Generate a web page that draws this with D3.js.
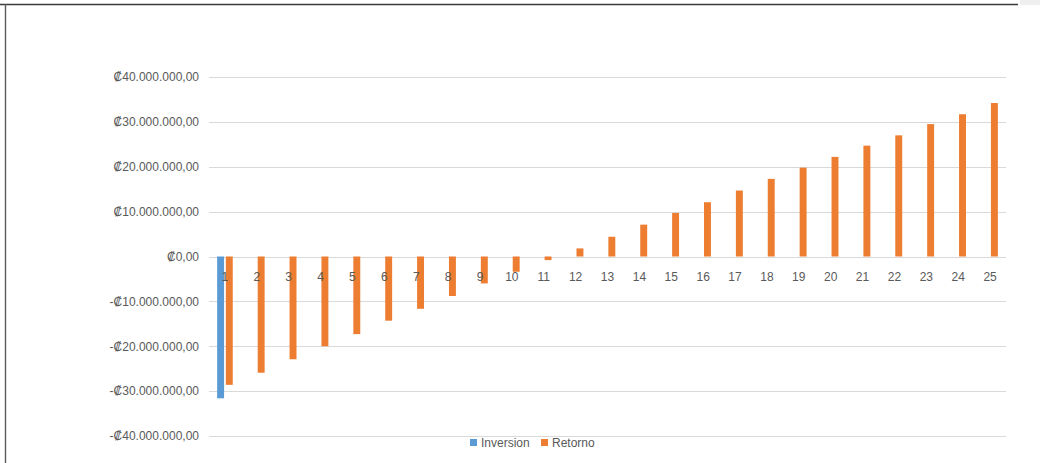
<!DOCTYPE html>
<html>
<head>
<meta charset="utf-8">
<script src="https://cdn.jsdelivr.net/npm/d3@7"></script>
<style>
  html, body { margin: 0; padding: 0; background: #ffffff; }
  svg { display: block; }
  text { font-family: "Liberation Sans", Arial, sans-serif; fill: #595959; }
</style>
</head>
<body>
<svg id="chart" width="1040" height="463"></svg>
<script>
// Periods (years) of the cash-flow projection
const categories = d3.range(1, 26).map(String);

// Initial investment (only in period 1), colones
const inversion = [-31600000, null, null, null, null, null, null, null, null, null,
  null, null, null, null, null, null, null, null, null, null,
  null, null, null, null, null];

// Cumulative return per period, colones
const retorno = [-28600000, -25900000, -22900000, -20000000, -17300000,
  -14300000, -11650000, -8800000, -6000000, -3400000,
  -800000, 1800000, 4400000, 7100000, 9700000,
  12100000, 14700000, 17300000, 19800000, 22200000,
  24700000, 27000000, 29500000, 31700000, 34200000];

const seriesNames = ["Inversion", "Retorno"];
const seriesColors = ["#5B9BD5", "#ED7D31"];

// Value-axis ticks
const yTicks = [-40000000, -30000000, -20000000, -10000000, 0,
  10000000, 20000000, 30000000, 40000000];

const svg = d3.select("#chart");
const W = 1040, H = 463;

// Outer frame (top and left edges)
svg.append("rect").attr("x", 1020).attr("y", 0).attr("width", 20).attr("height", 5).attr("fill", "#efefef");
svg.append("line").attr("x1", 0).attr("x2", 1018).attr("y1", 4.5).attr("y2", 4.5)
  .attr("stroke", "#3a3a3a").attr("stroke-width", 1.6);
svg.append("line").attr("x1", 5.5).attr("x2", 5.5).attr("y1", 4).attr("y2", H)
  .attr("stroke", "#5a5a5a").attr("stroke-width", 1.4);

const plot = { left: 209, right: 1006, top: 77, bottom: 436 };

const x = d3.scaleBand().domain(categories).range([plot.left, plot.right]).padding(0);
const x1 = d3.scaleBand().domain(seriesNames).range([-7.8, 7.8]).paddingInner(0.2);
const y = d3.scaleLinear().domain([-40000000, 40000000]).range([plot.bottom, plot.top]);

const locale = d3.formatLocale({
  decimal: ",", thousands: ".", grouping: [3], currency: ["₡", ""], minus: "-"
});
const fmt = locale.format("$,.2f");

// Gridlines
svg.append("g").selectAll("line").data(yTicks).join("line")
  .attr("x1", plot.left).attr("x2", plot.right)
  .attr("y1", d => Math.round(y(d)) + 0.5).attr("y2", d => Math.round(y(d)) + 0.5)
  .attr("stroke", "#d9d9d9").attr("stroke-width", 1);

// Value axis labels
const yAxis = d3.axisLeft(y).tickValues(yTicks).tickFormat(fmt).tickSize(0).tickPadding(10);
const gy = svg.append("g").attr("transform", `translate(${plot.left},0)`).call(yAxis);
gy.select(".domain").remove();
gy.selectAll("text").style("font-size", "12px").attr("fill", "#595959")
  .style("font-family", "'Liberation Sans', Arial, sans-serif");

// Bars
const seriesData = [inversion, retorno];
seriesNames.forEach((name, si) => {
  const rows = categories.map((c, i) => ({ c, v: seriesData[si][i] })).filter(d => d.v != null);
  svg.append("g").selectAll("rect").data(rows).join("rect")
    .attr("x", d => x(d.c) + x.bandwidth() / 2 + x1(name))
    .attr("width", x1.bandwidth())
    .attr("y", d => Math.min(y(d.v), y(0)))
    .attr("height", d => Math.abs(y(d.v) - y(0)))
    .attr("fill", seriesColors[si]);
});

// Category labels, placed just under the zero line
const xAxis = d3.axisBottom(x).tickSize(0).tickPadding(0);
const gx = svg.append("g").attr("transform", `translate(0,${y(0) + 16})`).call(xAxis);
gx.select(".domain").remove();
gx.selectAll("text").style("font-size", "12px").attr("fill", "#595959")
  .style("font-family", "'Liberation Sans', Arial, sans-serif");

// Legend
const legendItems = [
  { name: seriesNames[0], color: seriesColors[0], x: 470 },
  { name: seriesNames[1], color: seriesColors[1], x: 541 }
];
const lg = svg.append("g");
lg.selectAll("rect").data(legendItems).join("rect")
  .attr("x", d => d.x).attr("y", 439).attr("width", 7).attr("height", 7)
  .attr("fill", d => d.color);
lg.selectAll("text").data(legendItems).join("text")
  .attr("x", d => d.x + 11).attr("y", 446.5)
  .style("font-size", "12px")
  .text(d => d.name);
</script>
</body>
</html>
